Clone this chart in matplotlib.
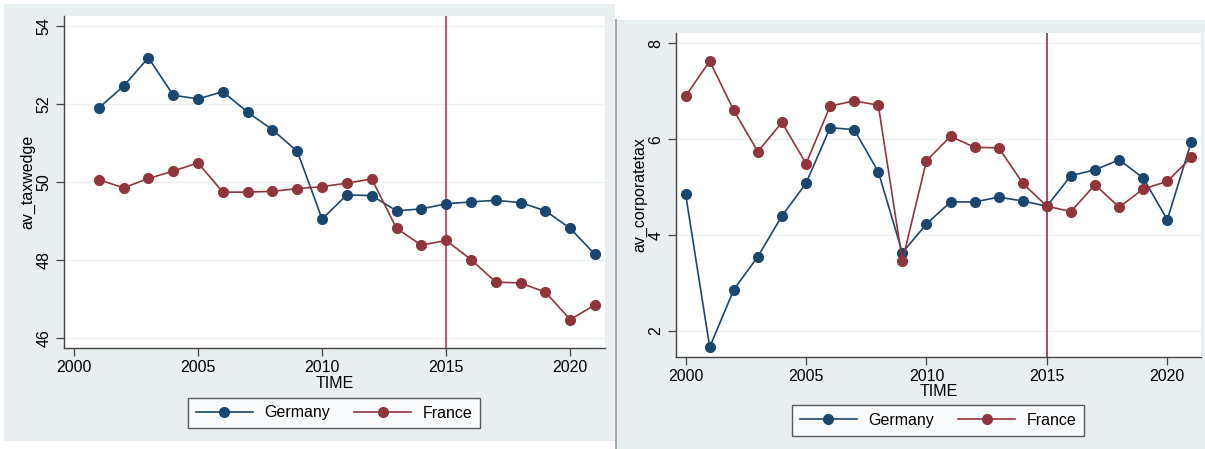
import matplotlib
matplotlib.use("Agg")
import matplotlib.pyplot as plt
from matplotlib.patches import Rectangle

plt.rcParams["font.family"] = ["Liberation Sans", "DejaVu Sans"]

# tax wedge, 2001-2021
years_tw = list(range(2001, 2022))
ger_tw = [51.90, 52.46, 53.19, 52.23, 52.13, 52.32, 51.79, 51.34, 50.79, 49.05,
          49.67, 49.65, 49.26, 49.31, 49.44, 49.49, 49.53, 49.47, 49.26, 48.81, 48.14]
fra_tw = [50.06, 49.85, 50.09, 50.28, 50.49, 49.74, 49.74, 49.76, 49.83, 49.88,
          49.97, 50.08, 48.81, 48.38, 48.50, 48.01, 47.43, 47.41, 47.17, 46.47, 46.85]

# corporate tax, 2000-2021
years_ct = list(range(2000, 2022))
ger_ct = [4.85, 1.66, 2.86, 3.55, 4.40, 5.08, 6.24, 6.20, 5.32, 3.63, 4.23,
          4.69, 4.69, 4.79, 4.71, 4.60, 5.24, 5.36, 5.57, 5.19, 4.32, 5.95]
fra_ct = [6.90, 7.63, 6.60, 5.74, 6.35, 5.49, 6.69, 6.80, 6.71, 3.46, 5.55,
          6.06, 5.83, 5.82, 5.08, 4.60, 4.49, 5.05, 4.58, 4.96, 5.12, 5.62]

xticks = [2000, 2005, 2010, 2015, 2020]
NAVY, MAROON = "#1a476f", "#90353b"
BG = "#e9eef1"
W, H = 1205, 449

fig = plt.figure(figsize=(W / 100, H / 100), dpi=100)
fig.patch.set_facecolor("white")

# panel backgrounds (pixel boxes -> figure fractions), kept beneath the axes
def box(x0, y0, x1, y1, **kw):
    fig.patches.append(Rectangle((x0 / W, 1 - y1 / H), (x1 - x0) / W, (y1 - y0) / H,
                                 transform=fig.transFigure, zorder=-5, **kw))

box(4, 4, 615, 441, facecolor=BG, edgecolor="none")
box(616, 20, 1205, 449, facecolor=BG, edgecolor="none")
fig.add_artist(plt.Line2D([616 / W, 616 / W], [0, 1 - 20 / H], transform=fig.transFigure,
                          color="#9a9a9a", lw=1.2, zorder=-4))


def panel(rect, years, ger, fra, ylim, yticks, ylabel, vcolor, legend_xy):
    ax = fig.add_axes(rect)
    ax.set_facecolor("white")
    for yt in yticks:
        ax.axhline(yt, color="#eef1f3", lw=1.0, zorder=0)
    ax.axvline(2015, color=vcolor, lw=1.4, zorder=1)
    ax.plot(years, ger, "o-", color=NAVY, lw=1.2, ms=7, label="Germany", zorder=3)
    ax.plot(years, fra, "o-", color=MAROON, lw=1.2, ms=7, label="France", zorder=3)
    ax.set_xlim(1999.6, 2021.4)
    ax.set_ylim(*ylim)
    ax.set_xticks(xticks)
    ax.set_yticks(yticks)
    ax.set_yticklabels([str(t) for t in yticks], rotation=90, va="center")
    ax.tick_params(labelsize=11.5, length=6, width=0.9, color="#444444", pad=3)
    for s in ("top", "right"):
        ax.spines[s].set_visible(False)
    for s in ("left", "bottom"):
        ax.spines[s].set_color("#444444")
        ax.spines[s].set_linewidth(1.0)
    ax.set_xlabel("TIME", fontsize=11.5, labelpad=0)
    ax.set_ylabel(ylabel, fontsize=11.5, labelpad=1)
    leg = ax.legend(loc="center", bbox_to_anchor=legend_xy, bbox_transform=fig.transFigure,
                    ncol=2, fontsize=11.5, frameon=True, fancybox=False, edgecolor="#333333",
                    handlelength=3.6, handletextpad=0.7, columnspacing=1.5,
                    borderpad=0.5)
    leg.get_frame().set_linewidth(1.0)
    return ax


panel([64 / W, 1 - 348 / H, 541 / W, 332 / H], years_tw, ger_tw, fra_tw,
      (45.74, 54.26), [46, 48, 50, 52, 54], "av_taxwedge", "#d0506e",
      (334 / W, 1 - 413 / H))
panel([676 / W, 1 - 356.7 / H, 525 / W, 323.4 / H], years_ct, ger_ct, fra_ct,
      (1.46, 8.21), [2, 4, 6, 8], "av_corporatetax", "#a34a6a",
      (938 / W, 1 - 420.5 / H))

fig.savefig("out.png", dpi=100)
